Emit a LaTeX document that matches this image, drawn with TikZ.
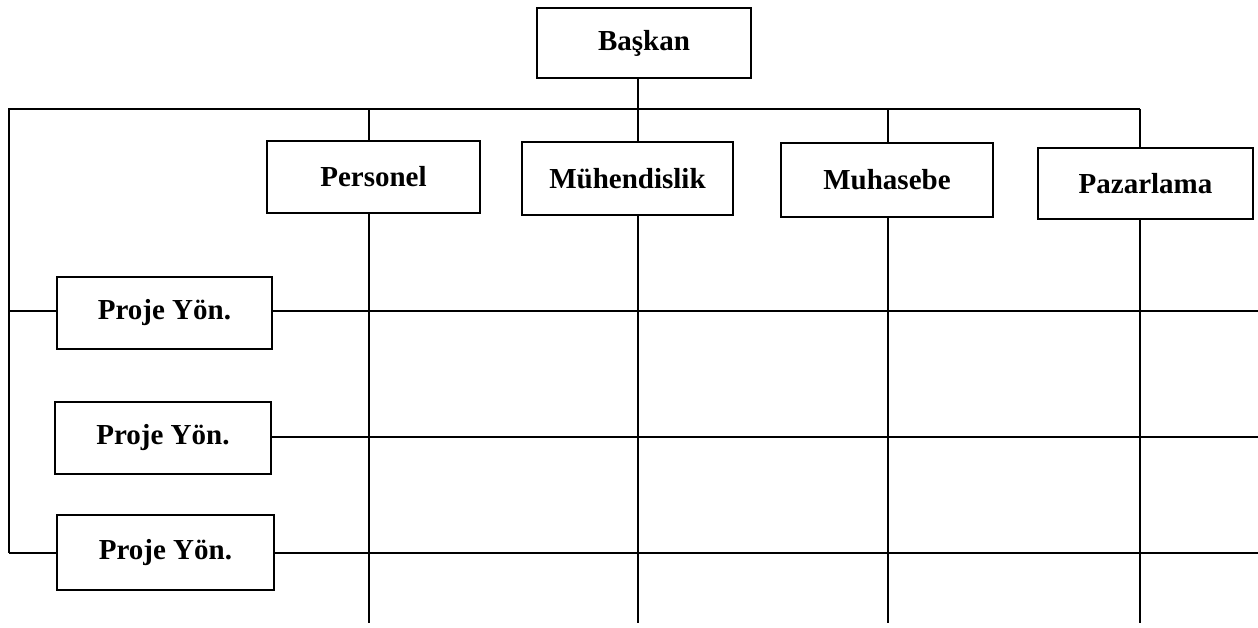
\documentclass[tikz,border=0pt]{standalone}
\usepackage{fontspec}
\setmainfont{Liberation Serif}
\begin{document}
\begin{tikzpicture}[x=1pt,y=-1pt,
  box/.style={draw,line width=2.6pt,rectangle,inner sep=0pt,
    font=\fontsize{29}{34}\selectfont\bfseries},
  link/.style={line width=2.8pt}]
\useasboundingbox (0,0) rectangle (1258,628);

% top box and department boxes
\node[box,minimum width=214,minimum height=70] (baskan) at (644,43) {Başkan};
\node[box,minimum width=213,minimum height=72] (personel) at (373.5,177) {Personel};
\node[box,minimum width=211,minimum height=73] (muhendis) at (627.5,178.5) {Mühendislik};
\node[box,minimum width=212,minimum height=74] (muhasebe) at (887,180) {Muhasebe};
\node[box,minimum width=215,minimum height=71] (pazarlama) at (1145.5,183.5) {Pazarlama};

% project manager boxes
\node[box,minimum width=215,minimum height=72] (proje1) at (164.5,313) {Proje Yön.};
\node[box,minimum width=216,minimum height=72] (proje2) at (163,438) {Proje Yön.};
\node[box,minimum width=217,minimum height=75] (proje3) at (165.5,552.5) {Proje Yön.};

% bus points and column positions
\coordinate (busL) at (9,109);
\coordinate (busP) at (369,109);
\coordinate (busM) at (638,109);
\coordinate (busH) at (888,109);
\coordinate (busZ) at (1140,109);
\coordinate (endP) at (369,623);
\coordinate (endM) at (638,623);
\coordinate (endH) at (888,623);
\coordinate (endZ) at (1140,623);
\coordinate (leftB) at (9,553);
\coordinate (r1) at (1258,311);
\coordinate (r2) at (1258,437);
\coordinate (r3) at (1258,553);

% main bus
\draw[link] (baskan.south -| busM) -- (busM);
\draw[link] (leftB) -- (busL) -- (busZ);

% drops to departments
\foreach \c/\n in {busP/personel,busM/muhendis,busH/muhasebe,busZ/pazarlama}
  \draw[link] (\c) -- (\c |- \n.north);

% department columns
\draw[link] (personel.south -| endP) -- (endP);
\draw[link] (muhendis.south -| endM) -- (endM);
\draw[link] (muhasebe.south -| endH) -- (endH);
\draw[link] (pazarlama.south -| endZ) -- (endZ);

% project rows
\draw[link] (proje1.east |- r1) -- (r1);
\draw[link] (proje2.east |- r2) -- (r2);
\draw[link] (proje3.east |- r3) -- (r3);

% left links to project managers
\draw[link] (busL |- r1) -- (proje1.west |- r1);
\draw[link] (leftB) -- (proje3.west |- leftB);
\end{tikzpicture}
\end{document}
